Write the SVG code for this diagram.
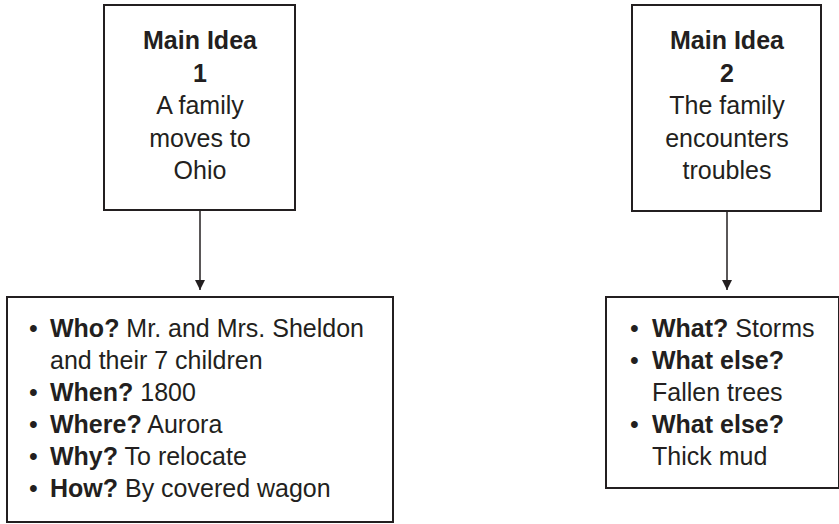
<svg xmlns="http://www.w3.org/2000/svg" width="839" height="524" viewBox="0 0 839 524">
<style>
.box{fill:#fff;stroke:#231f20;stroke-width:2}
.t{font-family:"Liberation Sans",Arial,sans-serif;font-size:25px;fill:#231f20}
.c{text-anchor:middle}
.b{font-weight:bold}
.conn{stroke:#231f20;stroke-width:1.5;fill:none}
</style>
<defs>
<marker id="arr" viewBox="0 0 10 12" refX="10" refY="6" markerWidth="10" markerHeight="12" markerUnits="userSpaceOnUse" orient="auto">
<path d="M0,1 L10,6 L0,11 Z" fill="#231f20"/>
</marker>
</defs>
<rect width="839" height="524" fill="#fff"/>
<g id="connectors">
<line class="conn" x1="200" y1="210" x2="200" y2="290" marker-end="url(#arr)"/>
<line class="conn" x1="727" y1="211" x2="727" y2="290" marker-end="url(#arr)"/>
</g>
<g id="idea1">
<rect class="box" x="104" y="5" width="191" height="205"/>
<text class="t c b" x="200" y="49">Main Idea</text>
<text class="t c b" x="200" y="81.5">1</text>
<text class="t c" x="200" y="114">A family</text>
<text class="t c" x="200" y="146.5">moves to</text>
<text class="t c" x="200" y="179">Ohio</text>
</g>
<g id="idea2">
<rect class="box" x="632" y="5" width="189" height="206"/>
<text class="t c b" x="727" y="49">Main Idea</text>
<text class="t c b" x="727" y="81.5">2</text>
<text class="t c" x="727" y="114">The family</text>
<text class="t c" x="727" y="146.5">encounters</text>
<text class="t c" x="727" y="179">troubles</text>
</g>
<g id="details1">
<rect class="box" x="7" y="297" width="386" height="225"/>
<text class="t" x="29" y="337">•</text><text class="t" x="50" y="337"><tspan class="b">Who?</tspan> Mr. and Mrs. Sheldon</text>
<text class="t" x="50" y="369">and their 7 children</text>
<text class="t" x="29" y="401">•</text><text class="t" x="50" y="401"><tspan class="b">When?</tspan> 1800</text>
<text class="t" x="29" y="433">•</text><text class="t" x="50" y="433"><tspan class="b">Where?</tspan> Aurora</text>
<text class="t" x="29" y="465">•</text><text class="t" x="50" y="465"><tspan class="b">Why?</tspan> To relocate</text>
<text class="t" x="29" y="497">•</text><text class="t" x="50" y="497"><tspan class="b">How?</tspan> By covered wagon</text>
</g>
<g id="details2">
<rect class="box" x="606" y="297" width="233" height="191"/>
<text class="t" x="630" y="337">•</text><text class="t" x="652" y="337"><tspan class="b">What?</tspan> Storms</text>
<text class="t" x="630" y="369">•</text><text class="t b" x="652" y="369">What else?</text>
<text class="t" x="652" y="401">Fallen trees</text>
<text class="t" x="630" y="433">•</text><text class="t b" x="652" y="433">What else?</text>
<text class="t" x="652" y="465">Thick mud</text>
</g>
</svg>
